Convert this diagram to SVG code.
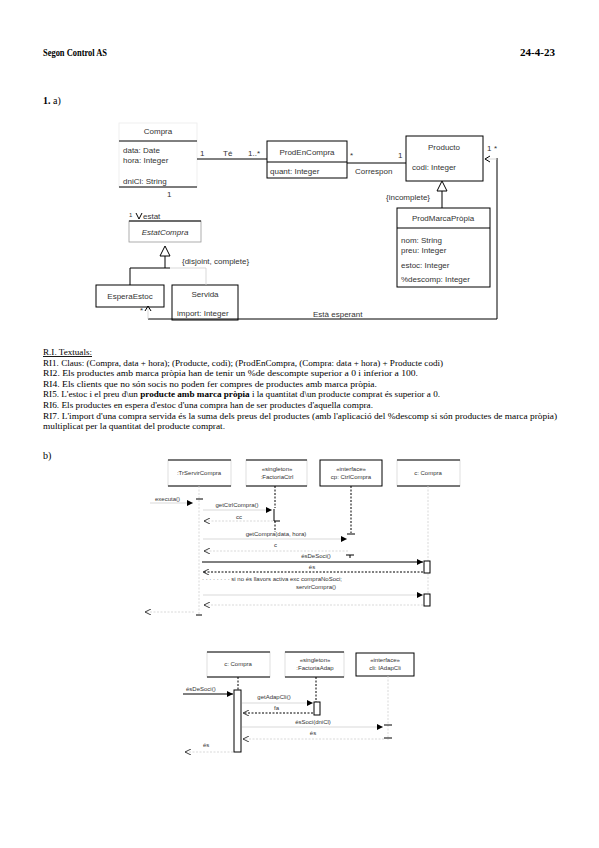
<svg xmlns="http://www.w3.org/2000/svg" width="599" height="848" viewBox="0 0 599 848">
<defs>
<style>
.h{font-family:"Liberation Serif","Times New Roman",serif;font-size:10px;fill:#000}
.b{font-weight:bold}
.r{font-family:"Liberation Serif","Times New Roman",serif;font-size:9px;fill:#000}
.c{font-family:"Liberation Sans",Arial,sans-serif;font-size:8px;fill:#333}
.q{font-family:"Liberation Sans",Arial,sans-serif;font-size:6px;fill:#333}
.m{text-anchor:middle}
.k{stroke:#000;stroke-width:1;fill:none}
.g{stroke:#cfcfcf;stroke-width:0.8;fill:none}
.d{stroke-dasharray:2,1.5}
.bx{fill:#fff;stroke:#000;stroke-width:1}
.gb{fill:#fff;stroke:#d8d8d8;stroke-width:0.8}
.tri{fill:#fff;stroke:#000;stroke-width:1}
</style>
<marker id="fa" viewBox="0 0 8 8" refX="8" refY="4" markerWidth="6" markerHeight="6" orient="auto" markerUnits="userSpaceOnUse"><path d="M0,0 L8,4 L0,8 z" fill="#000"/></marker>
<marker id="oa" viewBox="0 0 8 8" refX="8" refY="4" markerWidth="6" markerHeight="6" orient="auto" markerUnits="userSpaceOnUse"><path d="M0,0 L8,4 L0,8" fill="none" stroke="#000" stroke-width="1"/></marker>
</defs>
<rect width="599" height="848" fill="#fff"/>

<g id="header">
<text class="h b" x="43" y="56" textLength="64" lengthAdjust="spacingAndGlyphs">Segon Control AS</text>
<text class="h b" x="520" y="56" textLength="35" lengthAdjust="spacingAndGlyphs">24-4-23</text>
<text class="h" x="43" y="104"><tspan class="b">1.</tspan> a)</text>
<text class="h" x="43" y="459">b)</text>
</g>

<!-- Class diagram -->
<g id="compra">
<rect x="119" y="123" width="78" height="64" fill="none" stroke="#ececec" stroke-width="0.8"/>
<text class="c m" x="158" y="134">Compra</text>
<line class="k" x1="119" y1="141" x2="197" y2="141"/>
<text class="c" x="123" y="153">data: Date</text>
<text class="c" x="123" y="163">hora: Integer</text>
<text class="c" x="123" y="184">dniCl: String</text>
<line class="k" x1="119" y1="187" x2="197" y2="187"/>
<text class="c" x="167" y="197">1</text>
</g>
<g id="prodencompra">
<rect class="bx" x="267" y="141" width="80" height="37"/>
<line class="k" x1="267" y1="162" x2="347" y2="162"/>
<text class="c m" x="307" y="155">ProdEnCompra</text>
<text class="c" x="270" y="174">quant: Integer</text>
</g>
<g id="producto">
<rect class="bx" x="406" y="136" width="77" height="45"/>
<text class="c m" x="444" y="150">Producto</text>
<text class="c" x="412" y="170">codi: Integer</text>
</g>
<g id="prodmarcapropia">
<rect class="bx" x="397" y="208" width="93" height="79"/>
<line class="k" x1="397" y1="228" x2="490" y2="228"/>
<text class="c m" x="443" y="221" fill="#666">ProdMarcaPròpia</text>
<text class="c" x="401" y="243">nom: String</text>
<text class="c" x="401" y="253">preu: Integer</text>
<text class="c" x="401" y="268">estoc: Integer</text>
<text class="c" x="401" y="282">%descomp: Integer</text>
</g>
<g id="estatcompra">
<rect x="129" y="221" width="72" height="21" fill="#fff" stroke="#999" stroke-width="0.8"/>
<line class="k" x1="129" y1="221" x2="201" y2="221"/>
<text class="c m" x="165" y="235" font-style="italic">EstatCompra</text>
</g>
<g id="esperaestoc">
<rect class="bx" x="96" y="285" width="68" height="22"/>
<text class="c m" x="130" y="299">EsperaEstoc</text>
</g>
<g id="servida">
<rect class="bx" x="172" y="285" width="66" height="35"/>
<text class="c m" x="205" y="297">Servida</text>
<text class="c" x="177" y="316">import: Integer</text>
</g>

<g id="class-connectors">
<line class="k" x1="197" y1="159" x2="267" y2="159"/>
<text class="c" x="200" y="156">1</text>
<text class="c" x="223" y="156">Té</text>
<text class="c" x="248" y="156">1..*</text>
<line class="k" x1="347" y1="163" x2="406" y2="163"/>
<text class="c" x="350" y="158">*</text>
<text class="c" x="398" y="158">1</text>
<text class="c" x="355" y="174">Correspon</text>
<polygon class="tri" points="442,181 437,191 447,191"/>
<line class="k" x1="442" y1="191" x2="442" y2="208"/>
<text class="c" x="386" y="200">{incomplete}</text>
<polyline class="k" points="148,319 497,319 497,158"/>
<line class="g" x1="484" y1="159" x2="497" y2="159"/>
<polyline class="k" points="490,156 485,159 490,162"/>
<text class="c" x="487" y="151">1</text>
<text class="c" x="494" y="151">*</text>
<text class="c" x="313" y="317">Està esperant</text>
<line class="g" x1="148" y1="307" x2="148" y2="319"/>
<polyline class="k" points="145,311 148,306 151,311"/>
<text class="c" x="140" y="313">*</text>
<text class="q" x="129" y="217">1</text>
<polyline class="k" points="136,213 139,219 142,213"/>
<text class="c" x="143" y="219">estat</text>
<polygon class="tri" points="165,246 160,256 170,256"/>
<line class="k" x1="165" y1="256" x2="165" y2="268" stroke-width="1.5"/>
<line class="k" x1="130" y1="268" x2="170" y2="268"/>
<line class="g" x1="170" y1="268" x2="206" y2="268"/>
<line class="k" x1="130" y1="268" x2="130" y2="285"/>
<line class="g" x1="206" y1="268" x2="206" y2="285"/>
<text class="c" x="182" y="264">{disjoint, complete}</text>
</g>

<!-- Textual integrity rules -->
<g id="ri-text">
<text class="r" x="43" y="355" text-decoration="underline" textLength="49" lengthAdjust="spacingAndGlyphs">R.I. Textuals:</text>
<text class="r" x="43" y="365.6" textLength="400" lengthAdjust="spacingAndGlyphs">RI1. Claus: (Compra, data + hora); (Producte, codi); (ProdEnCompra, (Compra: data + hora) + Producte codi)</text>
<text class="r" x="43" y="376.2" textLength="375" lengthAdjust="spacingAndGlyphs">RI2. Els productes amb marca pròpia han de tenir un %de descompte superior a 0 i inferior a 100.</text>
<text class="r" x="43" y="386.8" textLength="334" lengthAdjust="spacingAndGlyphs">RI4. Els clients que no són socis no poden fer compres de productes amb marca pròpia.</text>
<text class="r" x="43" y="397.4" textLength="397" lengthAdjust="spacingAndGlyphs">RI5. L'estoc i el preu d\un <tspan font-weight="bold">producte amb marca pròpia</tspan> i la quantitat d\un producte comprat és superior a 0.</text>
<text class="r" x="43" y="408" textLength="330" lengthAdjust="spacingAndGlyphs">RI6. Els productes en espera d'estoc d'una compra han de ser productes d'aquella compra.</text>
<text class="r" x="43" y="418.6" textLength="514" lengthAdjust="spacingAndGlyphs">RI7. L'import d'una compra servida és la suma dels preus del productes (amb l'aplicació del %descomp si són productes de marca pròpia)</text>
<text class="r" x="43" y="429.2" textLength="182" lengthAdjust="spacingAndGlyphs">multiplicat per la quantitat del producte comprat.</text>
</g>

<!-- Sequence diagram 1 -->
<g id="trservircompra">
<rect class="gb" x="168" y="460" width="63" height="26"/>
<line class="k" x1="168" y1="460" x2="231" y2="460"/>
<line class="k" x1="168" y1="486" x2="231" y2="486"/>
<text class="q m" x="199" y="475">:TrServirCompra</text>
</g>
<g id="factoriactrl">
<rect class="gb" x="246" y="460" width="61" height="26"/>
<line class="k" x1="246" y1="460" x2="307" y2="460"/>
<line class="k" x1="246" y1="486" x2="307" y2="486"/>
<text class="q m" x="277" y="471">«singleton»</text>
<text class="q m" x="277" y="479">:FactoriaCtrl</text>
</g>
<g id="ctrlcompra">
<rect class="bx" x="320" y="460" width="62" height="26"/>
<text class="q m" x="351" y="471">«interface»</text>
<text class="q m" x="351" y="479">cp: CtrlCompra</text>
</g>
<g id="ccompra">
<rect class="gb" x="397" y="460" width="63" height="26"/>
<line class="k" x1="397" y1="460" x2="460" y2="460"/>
<line class="k" x1="397" y1="486" x2="460" y2="486"/>
<text class="q m" x="428" y="475">c: Compra</text>
</g>

<g id="seq1-connectors">
<line class="g d" x1="199" y1="486" x2="199" y2="615"/>
<line class="g d" x1="428" y1="486" x2="428" y2="606"/>
<line class="k d" x1="275" y1="486" x2="275" y2="508"/>
<line class="k d" x1="275" y1="521" x2="275" y2="532"/>
<line class="k d" x1="351" y1="486" x2="351" y2="533"/>
<text class="q" x="155" y="501">executa()</text>
<line class="g" x1="150" y1="503" x2="193" y2="503" marker-end="url(#fa)"/>
<line class="k" x1="196" y1="499" x2="203" y2="499"/>
<text class="q m" x="237" y="507">getCtrlCompra()</text>
<line class="g" x1="203" y1="510" x2="272" y2="510" marker-end="url(#fa)"/>
<polyline class="k" points="274,509 274,521 280,521"/>
<text class="q" x="236" y="519">cc</text>
<line class="g d" x1="273" y1="521" x2="204" y2="521" marker-end="url(#oa)"/>
<text class="q m" x="276" y="536">getCompra(data, hora)</text>
<line class="g" x1="203" y1="539" x2="347" y2="539" marker-end="url(#fa)"/>
<line class="k" x1="347" y1="534" x2="355" y2="534"/>
<text class="q" x="274" y="547">c</text>
<line class="g d" x1="348" y1="551" x2="204" y2="551" marker-end="url(#oa)"/>
<text class="q m" x="316" y="558">ésDeSoci()</text>
<line class="k" x1="346" y1="555" x2="354" y2="555"/>
<line class="k" x1="350" y1="555" x2="350" y2="558"/>
<line class="k" x1="202" y1="562" x2="423" y2="562" marker-end="url(#fa)"/>
<rect class="bx" x="424" y="561" width="6" height="12"/>
<text class="q m" x="312" y="569">és</text>
<line class="k d" x1="423" y1="572" x2="203" y2="572" marker-end="url(#oa)"/>
<text class="q" x="202" y="581">· · · · · · · · si no és llavors activa exc compraNoSoci;</text>
<text class="q m" x="316" y="589">servirCompra()</text>
<line class="g" x1="203" y1="595" x2="423" y2="595" marker-end="url(#fa)"/>
<rect class="bx" x="424" y="594" width="6" height="12"/>
<line class="g d" x1="423" y1="605" x2="204" y2="605" marker-end="url(#oa)"/>
<line class="g d" x1="194" y1="612" x2="145" y2="612" marker-end="url(#oa)"/>
<line class="k" x1="196" y1="615" x2="202" y2="615"/>
</g>

<!-- Sequence diagram 2 -->
<g id="compra2">
<rect class="gb" x="207" y="652" width="63" height="25"/>
<line class="k" x1="207" y1="652" x2="270" y2="652"/>
<line class="k" x1="207" y1="677" x2="270" y2="677"/>
<text class="q m" x="238" y="666">c: Compra</text>
</g>
<g id="factoriaadap">
<rect class="gb" x="285" y="652" width="59" height="25"/>
<line class="k" x1="285" y1="652" x2="344" y2="652"/>
<line class="k" x1="285" y1="677" x2="344" y2="677"/>
<text class="q m" x="315" y="662">«singleton»</text>
<text class="q m" x="315" y="670">:FactoriaAdap</text>
</g>
<g id="iadapcli">
<rect class="bx" x="356" y="653" width="58" height="23"/>
<text class="q m" x="385" y="662">«interface»</text>
<text class="q m" x="385" y="670">cli: IAdapCli</text>
</g>

<g id="seq2-connectors">
<line class="k d" x1="238" y1="677" x2="238" y2="690"/>
<line class="k d" x1="316" y1="677" x2="316" y2="702"/>
<line class="g d" x1="388" y1="676" x2="388" y2="740"/>
<text class="q" x="186" y="691">ésDeSoci()</text>
<line class="k" x1="183" y1="694" x2="233" y2="694" marker-end="url(#fa)"/>
<rect class="bx" x="234" y="690" width="7" height="62"/>
<text class="q m" x="274" y="699">getAdapCli()</text>
<line class="g" x1="242" y1="703" x2="313" y2="703" marker-end="url(#fa)"/>
<rect class="bx" x="314" y="702" width="6" height="13"/>
<text class="q" x="274" y="710">fa</text>
<line class="k d" x1="313" y1="713" x2="243" y2="713" marker-end="url(#oa)"/>
<text class="q m" x="313" y="724">ésSoci(dniCl)</text>
<line class="g" x1="242" y1="727" x2="383" y2="727" marker-end="url(#fa)"/>
<line class="k" x1="384" y1="725" x2="392" y2="725"/>
<text class="q m" x="313" y="735">és</text>
<line class="k" x1="384" y1="738" x2="392" y2="738"/>
<line class="g d" x1="384" y1="739" x2="243" y2="739" marker-end="url(#oa)"/>
<text class="q" x="203" y="747">és</text>
<line class="g d" x1="233" y1="752" x2="185" y2="752" marker-end="url(#oa)"/>
</g>
</svg>
